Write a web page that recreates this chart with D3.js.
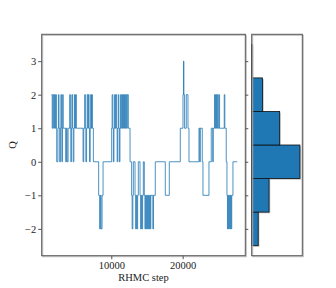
<!DOCTYPE html>
<html><head><meta charset="utf-8">
<script src="https://cdn.jsdelivr.net/npm/d3@7"></script>
<style>body{margin:0;background:#fff}svg{display:block}text{font-family:"Liberation Serif","DejaVu Serif",serif;fill:#222}</style>
</head><body><svg id="c" width="336" height="288"></svg>
<script>
// RHMC step at which Q changes, and new Q value (step function)
const steps = [1610,1722,1820,1932,2030,2128,2212,2310,2352,2520,2590,2674,2772,2870,2940,3038,3080,3150,3192,3262,
 3612,3710,3808,3948,4172,4270,4340,4410,4480,4578,4662,4760,4830,4914,4998,5110,
 6048,6146,6272,6370,6440,6538,6622,6720,6790,6888,6958,7042,7112,7210,7280,7350,7490,
 8232,8372,8470,8568,8708,8848,
 10052,10122,10220,10290,10374,10458,10570,10654,10752,10822,10906,10990,11060,11130,11214,11298,11410,11508,11592,11690,11774,11858,11970,12054,12152,12250,12390,12628,
 12852,12922,13020,13090,13328,13412,13510,13594,13692,13790,14028,14112,14210,14294,14392,14490,14630,14714,14812,14910,14994,15092,15190,15274,15372,15470,15540,15820,15918,16170,
 17570,18130,19670,20048,20118,20174,20272,20510,20748,20888,
 22288,22400,22470,22750,22848,23688,24010,24220,24290,24472,24570,24640,24752,24850,24934,25060,25172,25830,25914,
 26110,26208,26278,26362,26446,26530,26614,26712,26810,26880,27048,27650];
const charge = [2,1,2,1,2,1,2,1,0,1,2,1,0,1,2,1,0,1,2,1,
 0,1,0,1,2,1,0,1,2,1,0,1,2,1,2,1,
 0,1,2,1,0,1,2,1,2,1,0,1,2,1,2,1,0,
 -1,-2,-1,-2,-1,0,
 1,2,1,0,1,2,1,2,1,0,1,2,1,0,1,2,1,2,1,2,1,2,1,2,1,2,1,0,
 -1,-2,-1,0,-1,-2,-1,-2,-1,0,-1,-2,-1,-2,-1,0,-1,-2,-1,-2,-1,-2,-1,-2,-1,-2,-1,-2,-1,0,
 -1,0,1,2,3,2,1,2,1,0,
 1,0,1,0,-1,0,1,0,1,2,1,2,1,2,1,2,1,2,1,
 0,-1,-2,-1,-2,-1,-2,-1,-2,-1,0,0];
// Histogram of Q
const histBins = [-2,-1,0,1,2,3];
const histCounts = [135,360,1000,580,225,10];
const yTicks = [-2,-1,0,1,2,3];
const xTicks = [10000,20000];

const svg = d3.select("#c");
const L=41.7,R=245.3,T=34.3,B=255.7, HL=251.7, HR=302.3;
const x = d3.scaleLinear().domain([250,28780]).range([L,R]);
const y = d3.scaleLinear().domain([-2.8,3.8]).range([B,T]);
const hx = d3.scaleLinear().domain([0,d3.max(histCounts)*1.05]).range([HL,HR]);

const pts = steps.map((s,i)=>[s,charge[i]]);
const line = d3.line().x(d=>x(d[0])).y(d=>y(d[1])).curve(d3.curveStepAfter);
svg.append("path").attr("d",line(pts)).attr("fill","none").attr("stroke","#1f77b4").attr("stroke-width",1).attr("stroke-opacity",0.8);

// histogram bars
const hg = svg.append("g");
histBins.forEach((b,i)=>{
  hg.append("rect").attr("x",hx(0)+1.2).attr("y",y(b+0.5)+1.2).attr("width",hx(histCounts[i])-hx(0)).attr("height",y(b-0.5)-y(b+0.5)).attr("fill","#999").attr("opacity",0.6);
});
histBins.forEach((b,i)=>{
  hg.append("rect").attr("x",hx(0)).attr("y",y(b+0.5)).attr("width",hx(histCounts[i])-hx(0)).attr("height",y(b-0.5)-y(b+0.5)).attr("fill","#1f77b4").attr("stroke","#111").attr("stroke-width",0.8);
});

// frames
function frame(x0,x1){
  svg.append("rect").attr("x",x0+1).attr("y",T+1).attr("width",x1-x0).attr("height",B-T).attr("fill","none").attr("stroke","#bbb").attr("stroke-width",1);
  svg.append("rect").attr("x",x0).attr("y",T).attr("width",x1-x0).attr("height",B-T).attr("fill","none").attr("stroke","#555").attr("stroke-width",1);
}
frame(L,R); frame(HL,HR);

// axes
const ay = svg.append("g").attr("transform",`translate(${L},0)`).call(d3.axisLeft(y).tickValues(yTicks).tickSize(3.5).tickPadding(2).tickFormat(d=>d<0?"\u2212"+Math.abs(d):d));
const ay2 = svg.append("g").attr("transform",`translate(${R},0)`).call(d3.axisRight(y).tickValues(yTicks).tickSize(3).tickFormat(""));
const ax = svg.append("g").attr("transform",`translate(0,${B})`).call(d3.axisBottom(x).tickValues(xTicks).tickSize(3.5).tickPadding(2).tickFormat(d3.format("d")));
[ay,ay2,ax].forEach(g=>{g.select(".domain").remove();g.selectAll("line").attr("stroke","#555");g.selectAll("text").style("font-size","10.5px").attr("fill","#222");});

svg.append("text").attr("x",(L+R)/2).attr("y",281).attr("text-anchor","middle").style("font-size","10.5px").text("RHMC step");
svg.append("text").attr("transform",`translate(16,${(T+B)/2}) rotate(-90)`).attr("text-anchor","middle").style("font-size","10.5px").text("Q");
</script></body></html>
